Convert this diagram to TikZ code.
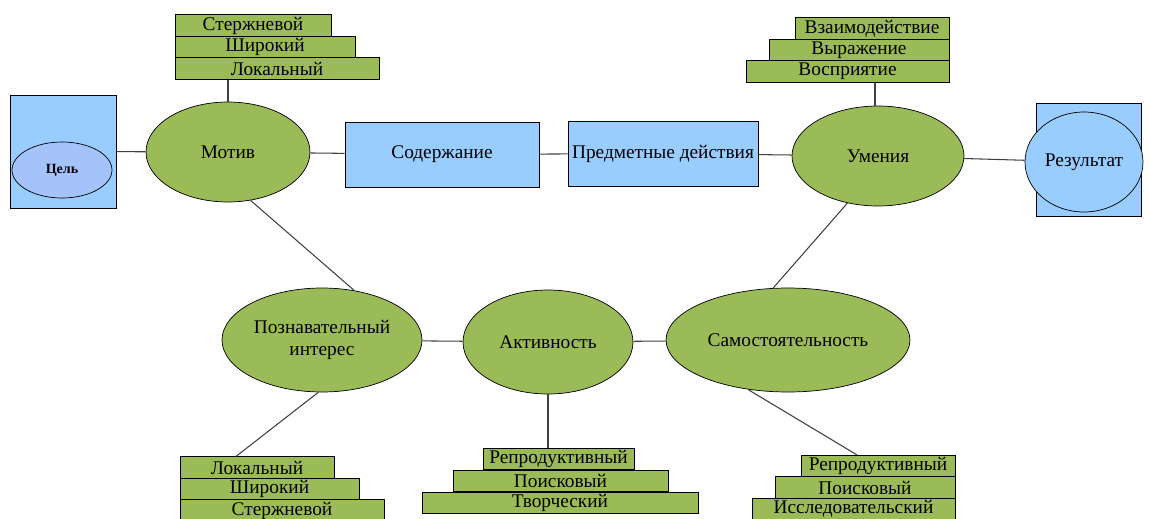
\documentclass[tikz,border=0pt]{standalone}
\usepackage{fontspec}
\setmainfont{Liberation Serif}
\usepackage{tikz}
\usetikzlibrary{shapes,positioning,calc}
\definecolor{zel}{HTML}{9BBB59}
\definecolor{gol}{HTML}{99CCFF}
\definecolor{gol2}{HTML}{A3C3FA}

\begin{document}
\begin{tikzpicture}[x=0.02cm, y=-0.02cm,
    every node/.style={font=\fontsize{11}{13}\selectfont},
    oval/.style={draw, ellipse, fill=zel, inner sep=0pt, align=center},
    blok/.style={draw, fill=gol, inner sep=0pt},
    stup/.style={draw, fill=zel, minimum height=0.43cm, inner sep=0pt},
    link/.style={draw=black!75, line width=0.6pt}]
    \useasboundingbox (0,0) rectangle (1150,518);
    % Goal and result
    \node[blok, minimum width=2.12cm, minimum height=2.26cm] (celbox) at (63,151.5) {};
    \node[draw, ellipse, fill=gol2, minimum width=2cm, minimum height=1.12cm, font=\fontsize{8}{9}\selectfont\bfseries] (cel) at (62,170) {Цель};
    \node[blok, minimum width=2.1cm, minimum height=2.26cm] (rezbox) at (1088.5,159.5) {};
    \node[draw, ellipse, fill=gol, minimum width=2.36cm, minimum height=2cm, inner sep=0pt] (rez) at (1084,162) {Результат};
    % Upper row
    \node[oval, minimum width=3.28cm, minimum height=2cm] (motiv) at (228,152) {Мотив};
    \node[blok, minimum width=3.88cm, minimum height=1.3cm] (sod) at (442,154.5) {Содержание};
    \node[blok, minimum width=3.8cm, minimum height=1.3cm] (pred) at (663,153.5) {Предметные действия};
    \node[oval, minimum width=3.44cm, minimum height=2cm] (umen) at (878,156) {Умения};
    % Lower row
    \node[oval, minimum width=4cm, minimum height=2.08cm] (pozn) at (322,340) {Познавательный\\интерес};
    \node[oval, minimum width=3.4cm, minimum height=2.08cm] (aktiv) at (548,342) {Активность};
    \node[oval, minimum width=4.88cm, minimum height=2.08cm] (samost) at (788,340) {Самостоятельность};
    % Steps of the motive
    \node[stup, minimum width=3.12cm] (m1) at (253,25.5) {Стержневой};
    \node[stup, minimum width=3.6cm] (m2) at (265,47) {Широкий};
    \node[stup, minimum width=4.08cm] (m3) at (277,68.5) {Локальный};
    % Steps of the skills
    \node[stup, minimum width=3.08cm] (u1) at (872,28.5) {Взаимодействие};
    \node[stup, minimum width=3.6cm] (u2) at (859,50) {Выражение};
    \node[stup, minimum width=4.06cm] (u3) at (847.5,71.5) {Восприятие};
    % Steps of the interest
    \node[stup, minimum width=3.08cm] (p1) at (257,467.5) {Локальный};
    \node[stup, minimum width=3.58cm] (p2) at (269.5,489) {Широкий};
    \node[stup, minimum width=4.08cm] (p3) at (282,510.5) {Стержневой};
    % Steps of the activity
    \node[stup, minimum width=3.02cm] (a1) at (558.5,459) {Репродуктивный};
    \node[stup, minimum width=4.3cm] (a2) at (560.5,481) {Поисковый};
    \node[stup, minimum width=5.52cm] (a3) at (560,503) {Творческий};
    % Steps of the independence
    \node[stup, minimum width=3.08cm] (s1) at (878,466) {Репродуктивный};
    \node[stup, minimum width=3.6cm] (s2) at (865,487.5) {Поисковый};
    \node[stup, minimum width=4.06cm] (s3) at (853.5,509) {Исследовательский};
    % links
    \draw[link] (celbox) -- (motiv);
    \draw[link] (motiv) -- (sod);
    \draw[link] (sod) -- (pred);
    \draw[link] (pred) -- (umen);
    \draw[link] (umen) -- (rez);
    \draw[link] (pozn) -- (aktiv);
    \draw[link] (aktiv) -- (samost);
    \draw[link] (motiv.-65) -- (pozn.57);
    \draw[link] (umen.-123) -- (samost.106);
    \draw[link] (motiv.north) -- (motiv.north |- m3.south);
    \draw[link] ([xshift=-0.06cm]umen.north) -- ([xshift=-0.06cm]umen.north |- u3.south);
    \draw[link] (pozn.-94) -- ([xshift=-0.42cm]p1.north);
    \draw[link] (aktiv.south) -- (aktiv.south |- a1.north);
    \draw[link] (samost.-129) -- ([xshift=-0.42cm]s1.north);
\end{tikzpicture}
\end{document}
